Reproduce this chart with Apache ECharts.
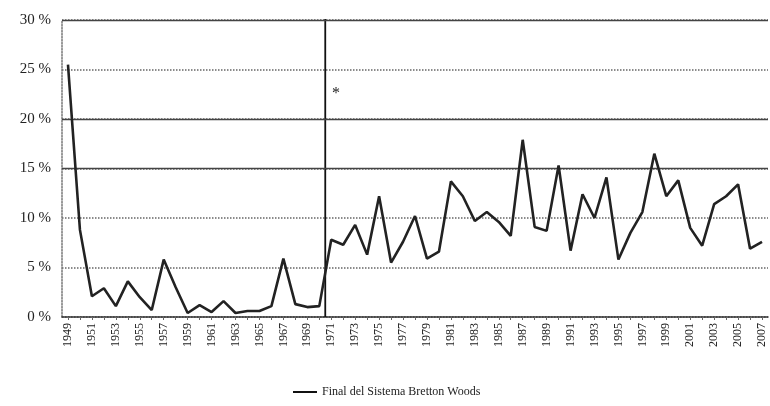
<!DOCTYPE html>
<html><head><meta charset="utf-8">
<script src="https://cdn.jsdelivr.net/npm/echarts@6/dist/echarts.min.js"></script>
<style>html,body{margin:0;padding:0;background:#fff}#c{width:770px;height:406px}</style>
</head><body><div id="c"></div>
<script>
const years = [];
for (let y = 1949; y <= 2007; y++) years.push(String(y));
const values = [25.5, 8.8, 2.1, 2.9, 1.1, 3.6, 2.0, 0.7, 5.8, 3.0,
  0.4, 1.2, 0.5, 1.6, 0.4, 0.6, 0.6, 1.1, 5.9, 1.3,
  1.0, 1.1, 7.8, 7.3, 9.3, 6.3, 12.2, 5.5, 7.6, 10.2,
  5.9, 6.6, 13.7, 12.2, 9.7, 10.6, 9.6, 8.2, 17.9, 9.1,
  8.7, 15.3, 6.7, 12.4, 10.0, 14.1, 5.8, 8.5, 10.6, 16.5,
  12.2, 13.8, 9.0, 7.2, 11.4, 12.2, 13.4, 6.9, 7.6];
const solidGrid = [15, 20, 30];
const breakYear = 1970.5;
const breakLabel = 'Final del Sistema Bretton Woods';
const noteYear = 1971.4, noteValue = 22.5, noteText = '*';

const font = '"Liberation Serif", "DejaVu Serif", serif';
const chart = echarts.init(document.getElementById('c'));
chart.setOption({
  animation: false,
  grid: { left: 62, right: 2, top: 20, bottom: 89 },
  legend: {
    data: [breakLabel], bottom: 3, left: 288,
    icon: 'rect', itemWidth: 24, itemHeight: 2, itemGap: 4,
    textStyle: { fontFamily: font, fontSize: 12, color: '#222' }
  },
  xAxis: [{
    type: 'category', data: years, boundaryGap: true,
    axisLine: { lineStyle: { color: '#333', width: 1.5 } },
    axisTick: { show: true, alignWithLabel: true, interval: 0, length: 3, lineStyle: { color: '#666' } },
    axisLabel: { rotate: 90, interval: 1, fontFamily: font, fontSize: 12, color: '#222', margin: 6 },
    splitLine: { show: false }
  }, {
    type: 'value', min: 1948.5, max: 2007.5, show: false
  }],
  yAxis: {
    type: 'value', min: 0, max: 30, interval: 5,
    axisLine: { show: true, lineStyle: { color: '#777', type: 'dotted', width: 1.5 } },
    axisTick: { show: false },
    axisLabel: { formatter: v => v + ' %', fontFamily: font, fontSize: 15, color: '#222', margin: 11 },
    splitLine: { show: true, lineStyle: { color: '#666', type: 'dotted', width: 1.5 } }
  },
  series: [{
    type: 'line', data: values, xAxisIndex: 0, symbol: 'none',
    lineStyle: { color: '#222', width: 2.6 }, z: 5,
    markLine: {
      silent: true, symbol: 'none', label: { show: false },
      lineStyle: { color: '#444', type: 'solid', width: 1.3 },
      data: solidGrid.map(v => ({ yAxis: v }))
    }
  }, {
    name: breakLabel, type: 'line', xAxisIndex: 1, symbol: 'none',
    data: [[breakYear, 0], [breakYear, 30.4]],
    lineStyle: { color: '#111', width: 1.8 }, itemStyle: { color: '#111' }, z: 4,
    markPoint: {
      symbol: 'circle', symbolSize: 0,
      label: { show: true, formatter: noteText, fontFamily: font, fontSize: 16, color: '#222' },
      data: [{ coord: [noteYear, noteValue] }]
    }
  }]
});
</script></body></html>
